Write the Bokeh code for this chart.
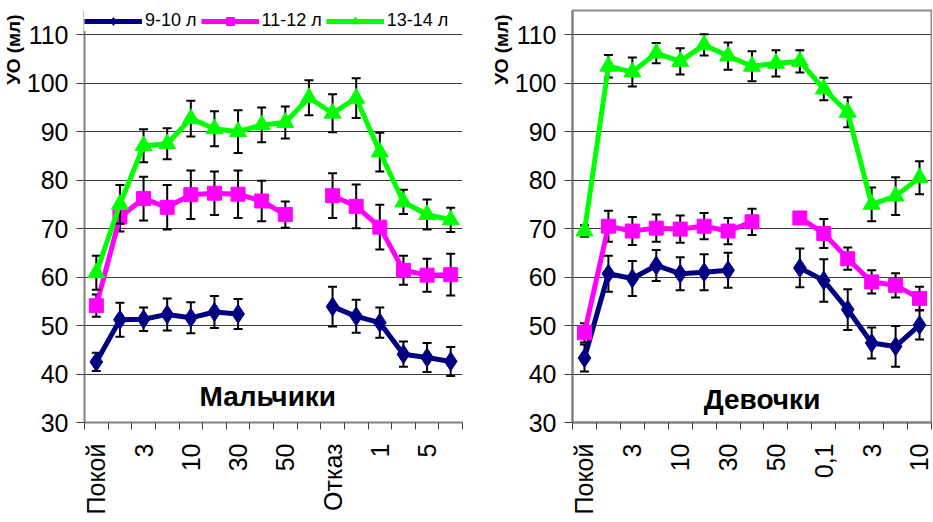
from math import pi
from bokeh.plotting import figure
from bokeh.layouts import row
from bokeh.models import FixedTicker, Label, Legend, LegendItem, Title
from bokeh.embed import file_html
from bokeh.resources import INLINE

nan = float("nan")

# ---- Boys (Мальчики) ----
boys_labels = ["Покой", "", "3", "", "10", "", "30", "", "50", "", "Отказ", "", "1", "", "5", ""]
boys_910 = [42.5, 51.2, 51.3, 52.3, 51.6, 52.8, 52.4, nan, nan, nan, 53.9, 51.9, 50.6, 44.1, 43.4, 42.6]
boys_910_err = [1.9, 3.5, 2.4, 3.3, 3.2, 3.3, 3.1, nan, nan, nan, 4.1, 3.4, 3.1, 2.6, 3.0, 3.0]
boys_1112 = [54.1, 72.4, 76.2, 74.4, 77.0, 77.3, 77.1, 75.7, 72.9, nan, 76.8, 74.6, 70.3, 61.4, 60.4, 60.5]
boys_1112_err = [2.3, 3.0, 4.5, 4.6, 5.0, 4.5, 4.9, 4.2, 2.7, nan, 4.6, 4.5, 4.6, 3.0, 3.4, 4.3]
boys_1314 = [60.9, 75.0, 87.1, 87.5, 92.7, 90.6, 90.0, 91.4, 91.9, 97.0, 93.8, 96.9, 85.8, 75.5, 72.9, 71.8]
boys_1314_err = [3.5, 4.0, 3.4, 3.2, 3.7, 3.6, 4.4, 3.6, 3.3, 3.6, 3.9, 4.1, 4.0, 2.5, 3.1, 2.5]

# ---- Girls (Девочки) ----
girls_labels = ["Покой", "", "3", "", "10", "", "30", "", "50", "", "0,1", "", "3", "", "10"]
girls_910 = [43.3, 60.7, 59.7, 62.4, 60.7, 61.0, 61.4, nan, nan, 61.9, 59.3, 53.3, 46.4, 45.7, 50.1]
girls_910_err = [2.8, 3.7, 3.6, 3.2, 3.4, 3.7, 3.6, nan, nan, 4.0, 4.4, 4.2, 3.2, 4.2, 3.0]
girls_1112 = [48.5, 70.5, 69.5, 70.1, 69.9, 70.5, 69.5, 71.4, nan, 72.2, 69.0, 63.8, 59.0, 58.3, 55.6]
girls_1112_err = [2.0, 3.2, 2.9, 2.8, 2.8, 2.7, 2.7, 2.7, nan, 1.0, 3.0, 2.3, 2.4, 2.5, 2.4]
girls_1314 = [69.5, 103.5, 102.3, 106.2, 104.5, 107.9, 105.6, 103.5, 104.1, 104.5, 98.8, 94.0, 75.0, 76.7, 80.5]
girls_1314_err = [1.2, 2.3, 3.0, 2.1, 2.7, 2.2, 2.8, 3.1, 2.7, 2.3, 2.3, 3.1, 3.5, 3.9, 3.4]

series_names = ["9-10 л", "11-12 л", "13-14 л"]
y_ticks = [30, 40, 50, 60, 70, 80, 90, 100, 110]

COLORS = ["#000080", "#FF00FF", "#00FF00"]
MARKERS = ["diamond", "square", "triangle"]
MSIZES = [19, 14, 17]
FONT = "Liberation Sans"


def make_fig(labels, series, errs, width, bl, br, bb, outline, title, tx, ty, legend):
    n = len(labels)
    p = figure(width=width, height=520, x_range=(-0.5, n - 0.5), y_range=(30, 115),
               output_backend="svg", toolbar_location=None,
               min_border_left=bl, min_border_right=br, min_border_top=10, min_border_bottom=bb)
    p.background_fill_color = "white"
    p.border_fill_color = "white"
    if outline:
        p.outline_line_color = "#8c8c8c"
        p.outline_line_width = 2
    else:
        p.outline_line_color = None

    # axes
    yax = p.yaxis[0]
    yax.ticker = FixedTicker(ticks=y_ticks)
    yax.major_label_text_font = FONT
    yax.major_label_text_font_size = "25px"
    yax.major_label_text_color = "black"
    yax.major_label_standoff = 8
    yax.major_tick_out = 8
    yax.major_tick_in = 0
    yax.major_tick_line_color = "#404040"
    yax.minor_tick_line_color = None
    yax.axis_line_color = "#808080"
    yax.axis_line_width = 2

    xax = p.xaxis[0]
    idx = [i for i, l in enumerate(labels) if l]
    xax.ticker = FixedTicker(ticks=idx, minor_ticks=[i - 0.5 for i in range(n + 1)])
    xax.major_label_overrides = {i: labels[i] for i in idx}
    xax.major_label_orientation = pi / 2
    xax.major_label_text_font = FONT
    xax.major_label_text_font_size = "25px"
    xax.major_label_text_color = "black"
    xax.major_tick_line_color = None
    xax.major_tick_out = 0
    xax.major_tick_in = 0
    xax.major_label_standoff = 14
    xax.minor_tick_out = 7
    xax.minor_tick_in = 0
    xax.minor_tick_line_color = "#404040"
    xax.minor_tick_line_width = 1
    xax.axis_line_color = "#808080"
    xax.axis_line_width = 2

    p.xgrid.visible = False
    p.ygrid.ticker = FixedTicker(ticks=y_ticks[1:])
    p.ygrid.grid_line_color = "#3a3a3a"
    p.ygrid.grid_line_width = 1

    xs = list(range(n))
    items = []
    for k, (vals, er) in enumerate(zip(series, errs)):
        up = [v + e for v, e in zip(vals, er)]
        lo = [v - e for v, e in zip(vals, er)]
        p.segment(x0=xs, x1=xs, y0=lo, y1=up, line_color="black", line_width=2)
        p.scatter(x=xs, y=up, marker="dash", size=9, line_color="black", line_width=2)
        p.scatter(x=xs, y=lo, marker="dash", size=9, line_color="black", line_width=2)
        lr = p.line(x=xs, y=vals, line_color=COLORS[k], line_width=5, line_join="round")
        sr = p.scatter(x=xs, y=vals, marker=MARKERS[k], size=MSIZES[k],
                       fill_color=COLORS[k], line_color=COLORS[k])
        items.append(LegendItem(label=series_names[k], renderers=[lr, sr]))

    if legend:
        lg = Legend(items=items, orientation="horizontal", location="top_left",
                    margin=0, padding=3, spacing=4, glyph_width=58, glyph_height=20,
                    label_standoff=3, label_text_font=FONT, label_text_font_size="18px",
                    label_text_color="black",
                    border_line_color=None, background_fill_color="white",
                    background_fill_alpha=1.0)
        p.add_layout(lg)

    p.add_layout(Label(x=tx, y=ty, text=title, text_font=FONT, text_font_size="28px",
                       text_font_style="bold", text_align="center", text_baseline="middle",
                       text_color="black"))
    p.add_layout(Title(text="УО (мл)", align="right", text_font=FONT, text_font_size="19px",
                       text_font_style="bold", text_color="black", standoff=0, offset=4), "left")
    return p


p1 = make_fig(boys_labels, [boys_910, boys_1112, boys_1314],
              [boys_910_err, boys_1112_err, boys_1314_err],
              width=472, bl=84, br=10, bb=98, outline=False,
              title="Мальчики", tx=7.26, ty=35.4, legend=True)
p2 = make_fig(girls_labels, [girls_910, girls_1112, girls_1314],
              [girls_910_err, girls_1112_err, girls_1314_err],
              width=460, bl=100, br=1, bb=93, outline=True,
              title="Девочки", tx=7.42, ty=34.7, legend=False)

layout = row(p1, p2)
open("out.html", "w").write(file_html(layout, INLINE))
